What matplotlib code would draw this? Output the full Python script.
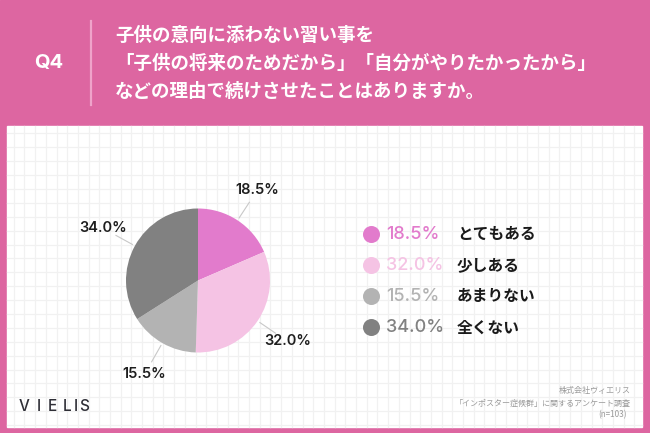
import numpy as np
import matplotlib
matplotlib.use("Agg")
import matplotlib.pyplot as plt
from matplotlib.patches import Rectangle

plt.rcParams['font.family'] = ['Noto Sans CJK JP', 'DejaVu Sans']

# ---- data ----
categories = ["とてもある", "少しある", "あまりない", "全くない"]
values = [18.5, 32.0, 15.5, 34.0]
colors = ["#E27BCC", "#F5C3E4", "#B3B3B3", "#818181"]
title_lines = ["子供の意向に添わない習い事を",
               "「子供の将来のためだから」「自分がやりたかったから」",
               "などの理由で続けさせたことはありますか。"]
q_label = "Q4"
footer_lines = ["株式会社ヴィエリス", "「インポスター症候群」に関するアンケート調査", "(n=103)"]
brand = "VIELIS"

W, H = 650, 433
PINK = "#DD66A1"
fig = plt.figure(figsize=(W / 100, H / 100), dpi=100)
bg = fig.add_axes([0, 0, 1, 1])
bg.set_xlim(0, W)
bg.set_ylim(H, 0)
bg.axis('off')

bg.add_patch(Rectangle((0, 0), W, H, color=PINK, zorder=0))
px0, py0, px1, py1 = 7.3, 126, 641.7, 426.7
bg.add_patch(Rectangle((px0, py0), px1 - px0, py1 - py0, color="white", zorder=1))

# grid
gx = 441.7 - 10.7 * np.ceil((441.7 - px0) / 10.7)
while gx < px1:
    if gx > px0:
        bg.plot([gx, gx], [py0, py1], color="#F1F1F1", lw=0.9, zorder=2)
    gx += 10.7
gy = 133.3
while gy < py1:
    bg.plot([px0, px1], [gy, gy], color="#F1F1F1", lw=0.9, zorder=2)
    gy += 13.9

# header
bg.text(49, 63, q_label, color="white", fontsize=14.5, fontweight="bold",
        family=["Inter", "DejaVu Sans"], ha="center", va="center", zorder=3)
bg.plot([90.7, 90.7], [21, 105], color="#EFA3CA", lw=1.6, zorder=3)
for i, line in enumerate(title_lines):
    bg.text(115, 35 + 28 * i, line, color="white", fontsize=13.3, fontweight="bold",
            ha="left", va="center", zorder=3)

# pie
R = 72
cx, cy = 198, 280.5
pax = fig.add_axes([(cx - 2 * R) / W, (H - cy - 2 * R) / H, 4 * R / W, 4 * R / H])
pax.set_zorder(5)
wedges, texts, autotexts = pax.pie(values, colors=colors, startangle=90, counterclock=False,
                                   autopct='%.1f%%', pctdistance=1.5,
                                   wedgeprops=dict(linewidth=0),
                                   textprops=dict(fontsize=10.5, color="#1E1E1E",
                                                  family=["Inter", "DejaVu Sans"],
                                                  fontweight="semibold"))
pax.set_xlim(-2, 2)
pax.set_ylim(-2, 2)
pax.set_aspect('equal')
pax.axis('off')
for w in wedges:
    mid = np.deg2rad((w.theta1 + w.theta2) / 2)
    pax.plot([1.04 * np.cos(mid), 1.3 * np.cos(mid)],
             [1.04 * np.sin(mid), 1.3 * np.sin(mid)], color="#C8C8C8", lw=0.8)

# legend
rows_y = [234.3, 265.3, 296.3, 327.3]
for y, cat, v, c in zip(rows_y, categories, values, colors):
    bg.scatter([370.7], [y], s=150, color=c, zorder=4, linewidths=0)
    bg.text(386, y, f"{v:.1f}%", color=c, fontsize=13, family=["Inter", "DejaVu Sans"],
            fontweight="medium", ha="left", va="center", zorder=4)
    bg.text(457, y, cat, color="#1A1A1A", fontsize=11.3, fontweight="bold",
            ha="left", va="center", zorder=4)

# footer
for i, line in enumerate(footer_lines):
    xr = 631 if i < 2 else 627
    bg.text(xr, 391 + 12 * i, line, color="#9A9A9A", fontsize=5.8, ha="right", va="center", zorder=4)

brand_x = [24.5, 39.3, 52.5, 67, 76, 83.7]
for ch, x in zip(brand, brand_x):
    bg.text(x, 406.7, ch, color="#2E2E36", fontsize=11, family=["Inter", "DejaVu Sans"],
            fontweight="medium", ha="center", va="center", zorder=4)

fig.savefig("out.png", dpi=100)
